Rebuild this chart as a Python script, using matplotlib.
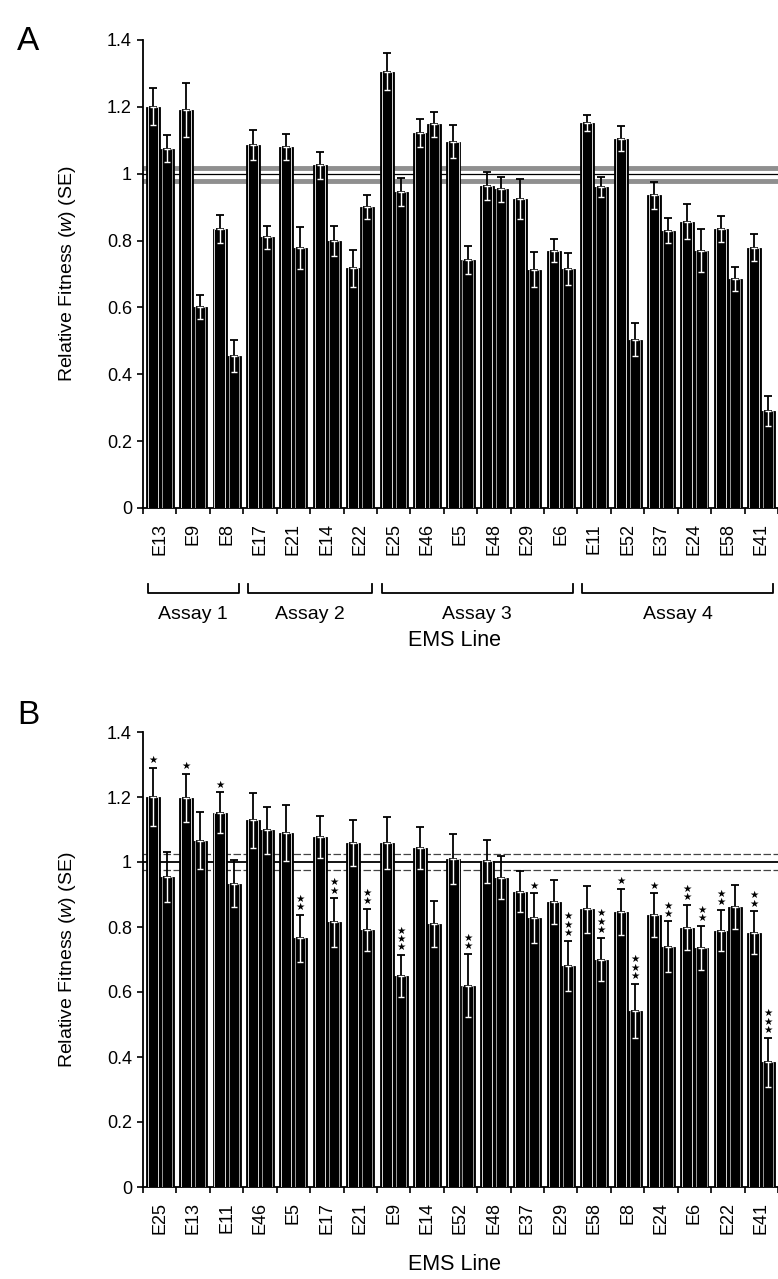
import matplotlib
matplotlib.use("Agg")
import matplotlib.pyplot as plt
import matplotlib.transforms as mtransforms
import numpy as np

plt.rcParams['font.family'] = ['Liberation Sans', 'DejaVu Sans']
plt.rcParams['mathtext.fontset'] = 'custom'
plt.rcParams['mathtext.rm'] = 'Liberation Sans'
plt.rcParams['mathtext.it'] = 'Liberation Sans:italic'

# Panel A : lignes EMS groupées par essai
lines_a = ['E13', 'E9', 'E8', 'E17', 'E21', 'E14', 'E22', 'E25', 'E46', 'E5',
           'E48', 'E29', 'E6', 'E11', 'E52', 'E37', 'E24', 'E58', 'E41']
fit_a_1 = [1.20, 1.19, 0.835, 1.085, 1.08, 1.025, 0.717, 1.305, 1.121, 1.096,
           0.963, 0.925, 0.77, 1.152, 1.105, 0.935, 0.857, 0.836, 0.779]
se_a_1 = [0.055, 0.08, 0.042, 0.045, 0.04, 0.041, 0.055, 0.056, 0.042, 0.049,
          0.043, 0.06, 0.034, 0.023, 0.038, 0.041, 0.053, 0.039, 0.041]
fit_a_2 = [1.075, 0.602, 0.455, 0.81, 0.778, 0.80, 0.90, 0.945, 1.148, 0.742,
           0.953, 0.713, 0.715, 0.961, 0.504, 0.83, 0.77, 0.684, 0.29]
se_a_2 = [0.041, 0.036, 0.047, 0.035, 0.062, 0.045, 0.035, 0.043, 0.037, 0.042,
          0.038, 0.053, 0.048, 0.03, 0.049, 0.037, 0.065, 0.036, 0.045]
assays = ['Assay 1', 'Assay 2', 'Assay 3', 'Assay 4']
assay_sizes = [3, 4, 6, 6]

# Panel B : lignes triées
lines_b = ['E25', 'E13', 'E11', 'E46', 'E5', 'E17', 'E21', 'E9', 'E14', 'E52',
           'E48', 'E37', 'E29', 'E58', 'E8', 'E24', 'E6', 'E22', 'E41']
fit_b_1 = [1.20, 1.197, 1.151, 1.128, 1.089, 1.076, 1.058, 1.057, 1.043, 1.009,
           1.002, 0.909, 0.877, 0.855, 0.846, 0.836, 0.798, 0.789, 0.782]
se_b_1 = [0.09, 0.075, 0.063, 0.084, 0.087, 0.065, 0.071, 0.08, 0.064, 0.077,
          0.066, 0.063, 0.068, 0.072, 0.071, 0.068, 0.07, 0.064, 0.066]
fit_b_2 = [0.954, 1.066, 0.933, 1.097, 0.765, 0.814, 0.791, 0.649, 0.81, 0.62,
           0.952, 0.827, 0.681, 0.70, 0.543, 0.74, 0.736, 0.861, 0.384]
se_b_2 = [0.076, 0.087, 0.072, 0.071, 0.073, 0.075, 0.065, 0.065, 0.07, 0.097,
          0.067, 0.077, 0.077, 0.067, 0.083, 0.077, 0.067, 0.067, 0.076]
stars_b_1 = [1, 1, 1, 0, 0, 0, 0, 0, 0, 0, 0, 0, 0, 0, 1, 1, 2, 2, 2]
stars_b_2 = [0, 0, 0, 0, 2, 2, 2, 3, 0, 2, 0, 1, 3, 3, 3, 2, 2, 0, 3]

W = 778
H = 1279
AX_LEFT = 143
CAT_W = 33.7
WIDTH = 0.42


def draw_bars(ax, names, v1, e1, v2, e2):
    x = np.arange(len(names))
    for pos, vals, errs, inner in [(x - WIDTH / 2, v1, e1, '#d8d8d8'),
                                   (x + WIDTH / 2, v2, e2, '#9a9a9a')]:
        ax.bar(pos, vals, WIDTH, color='black', edgecolor='black', linewidth=0.6, zorder=3)
        ax.bar(pos, vals, WIDTH * 0.72, color='none', edgecolor=inner, linewidth=0.7, zorder=3.5)
        zeros = np.zeros(len(vals))
        ax.errorbar(pos, vals, yerr=[zeros, errs], fmt='none', ecolor='black',
                    elinewidth=1.3, capsize=2.8, capthick=1.3, zorder=4)
        ax.errorbar(pos, vals, yerr=[errs, zeros], fmt='none', ecolor='white',
                    elinewidth=1.0, capsize=2.5, capthick=1.0, zorder=4)
    return x


def style_axis(ax, names):
    n = len(names)
    ax.set_ylim(0, 1.4)
    ax.set_xlim(-0.5, -0.5 + (W - AX_LEFT) / CAT_W)
    ax.set_yticks(np.arange(0, 1.41, 0.2))
    ax.set_yticklabels(['0', '0.2', '0.4', '0.6', '0.8', '1', '1.2', '1.4'])
    ax.set_xticks(np.arange(n + 1) - 0.5)
    ax.set_xticklabels([])
    ax.set_xticks(np.arange(n), minor=True)
    ax.set_xticklabels(names, minor=True, rotation=90, fontsize=13)
    ax.tick_params(axis='x', which='major', direction='out', length=4, width=1.2)
    ax.tick_params(axis='x', which='minor', length=0, pad=11)
    ax.tick_params(axis='y', direction='out', length=4, width=1.2, labelsize=13, pad=4)
    ax.spines['top'].set_visible(False)
    ax.spines['right'].set_visible(False)
    ax.spines['left'].set_linewidth(1.3)
    ax.spines['bottom'].set_linewidth(1.3)
    ax.set_ylabel('Relative Fitness ($w$) (SE)', fontsize=14)
    ax.yaxis.set_label_coords(-0.103, 0.5)


fig = plt.figure(figsize=(W / 100, H / 100), dpi=100)

# Panel A
ax_a = fig.add_axes([AX_LEFT / W, 1 - 508 / H, 1 - AX_LEFT / W, (508 - 40) / H])
ax_a.axhline(1.016, color='#8f8f8f', lw=3.5, zorder=1)
ax_a.axhline(0.978, color='#8f8f8f', lw=3.5, zorder=1)
ax_a.axhline(1.0, color='black', lw=0.9, zorder=1.5)
draw_bars(ax_a, lines_a, fit_a_1, se_a_1, fit_a_2, se_a_2)
style_axis(ax_a, lines_a)

# crochets des essais
trans = mtransforms.blended_transform_factory(ax_a.transData, ax_a.transAxes)
y_br = (508 - 593) / 468
y_up = (508 - 584) / 468
y_txt = (508 - 615) / 468
start = 0
for name, size in zip(assays, assay_sizes):
    x0 = start - 0.5 + 0.14
    x1 = start + size - 0.5 - 0.14
    ax_a.plot([x0, x0, x1, x1], [y_up, y_br, y_br, y_up], color='black', lw=1.3,
              transform=trans, clip_on=False)
    ax_a.text((x0 + x1) / 2, y_txt, name, transform=trans, ha='center', va='center',
              fontsize=14)
    start += size

fig.text(455 / W, 1 - 641 / H, 'EMS Line', ha='center', va='center', fontsize=15.5)
fig.text(28 / W, 1 - 42 / H, 'A', ha='center', va='center', fontsize=24)

# Panel B
ax_b = fig.add_axes([AX_LEFT / W, 1 - 1187 / H, 1 - AX_LEFT / W, (1187 - 732) / H])
ax_b.axhline(1.025, color='#444444', lw=0.9, ls=(0, (6, 2)), zorder=1)
ax_b.axhline(0.975, color='#444444', lw=0.9, ls=(0, (6, 2)), zorder=1)
ax_b.axhline(1.0, color='black', lw=1.3, zorder=1.5)
xb = draw_bars(ax_b, lines_b, fit_b_1, se_b_1, fit_b_2, se_b_2)
style_axis(ax_b, lines_b)

for pos, vals, errs, stars in [(xb - WIDTH / 2, fit_b_1, se_b_1, stars_b_1),
                               (xb + WIDTH / 2, fit_b_2, se_b_2, stars_b_2)]:
    for p, v, e, s in zip(pos, vals, errs, stars):
        if s:
            ax_b.text(p, v + e + 0.008, '\n'.join(['★'] * s), ha='center', va='bottom',
                      fontsize=7.5, linespacing=0.8, family='DejaVu Sans', zorder=5)

fig.text(455 / W, 1 - 1265 / H, 'EMS Line', ha='center', va='center', fontsize=15.5)
fig.text(28 / W, 1 - 716 / H, 'B', ha='center', va='center', fontsize=24)

fig.savefig('out.png', dpi=100)
